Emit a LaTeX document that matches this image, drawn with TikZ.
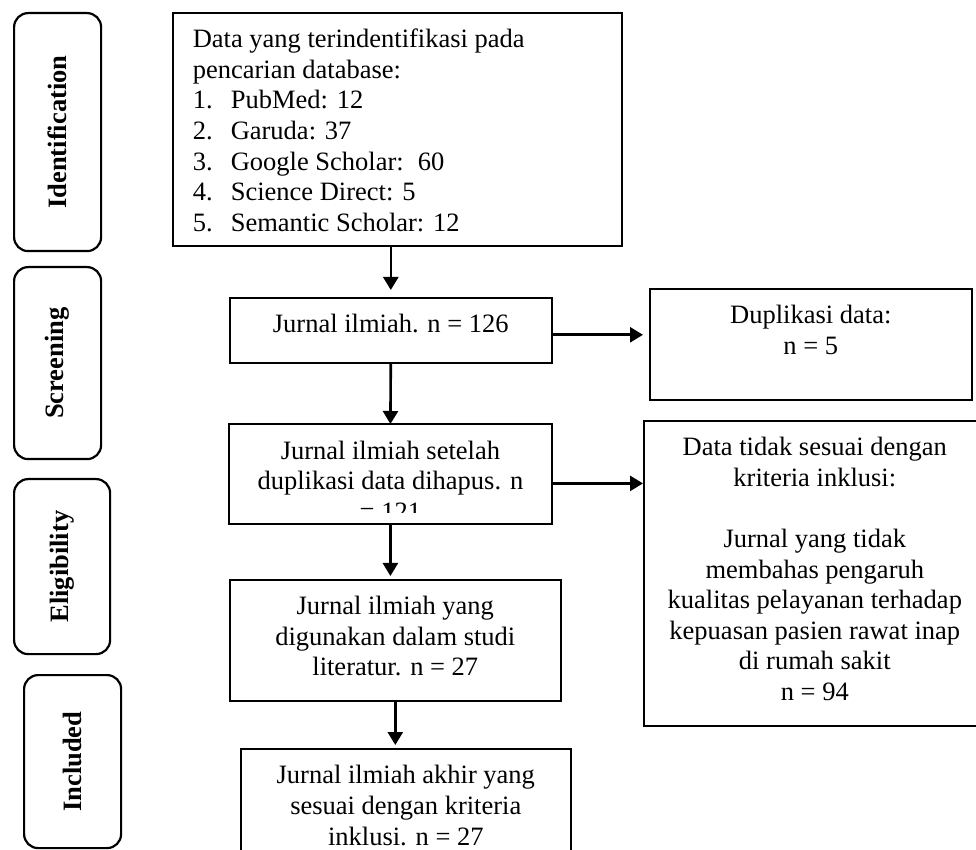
\documentclass[tikz,border=0pt]{standalone}
\usepackage{fontspec}
\setmainfont{Liberation Serif}
\usepackage{tikz}
\usetikzlibrary{arrows.meta}
\usetikzlibrary{positioning}
\newcommand{\flowfont}{\fontsize{13.25}{15.3}\selectfont}
\newcommand{\boxtext}[3]{\parbox[t][#2][t]{#1}{\centering\rule{0pt}{17.5pt}#3}}
\newcommand{\dbitem}[2]{\makebox[19pt][l]{#1}#2}
\tikzset{
    box/.style = {rectangle, draw=black, line width=0.8pt, inner sep=0pt, anchor=north west},
    boxtxt/.style = {rectangle, inner sep=0pt, anchor=north west},
    boxline/.style = {draw=black, line width=0.8pt},
    stage/.style = {rectangle, rounded corners=7pt, draw=black, line width=1.1pt, anchor=north west},
    stagetxt/.style = {rotate=90, font=\flowfont\bfseries},
    arr/.style = {-{Triangle[width=7.5pt,length=6.5pt]}, line width=1.3pt},
}

\begin{document}
\begin{tikzpicture}[x=0.5pt, y=-0.5pt, font=\flowfont]
\useasboundingbox (0,0) rectangle (976,850);
\clip (0,0) rectangle (976,850);
% stages on the left
\node[stage, minimum width=43.5pt, minimum height=119pt] (sid) at (13,12) {};
\node[stage, minimum width=43.5pt, minimum height=96pt] (sscr) at (13,266) {};
\node[stage, minimum width=48pt, minimum height=87.5pt] (seli) at (13,478) {};
\node[stage, minimum width=48.5pt, minimum height=86.5pt] (sinc) at (23,674) {};
\node[stagetxt] (lid) at (sid.center) {Identification};
\node[stagetxt] (lscr) at (sscr.center) {Screening};
\node[stagetxt] (leli) at (seli.center) {Eligibility};
\node[stagetxt] (linc) at (sinc.center) {Included};
%
% flow boxes
\node[box] (ids) at (172,12) {\parbox[t][116.5pt][t]{224.5pt}{\raggedright\leftskip=10pt\rule{0pt}{17.5pt}Data yang terindentifikasi pada\\
pencarian database:\\
\dbitem{1.}{PubMed: 12}\\
\dbitem{2.}{Garuda: 37}\\
\dbitem{3.}{Google Scholar:\hspace{7pt}60}\\
\dbitem{4.}{Science Direct: 5}\\
\dbitem{5.}{Semantic Scholar: 12}}};
\node[box] (scr1) at (229,297) {\boxtext{161pt}{32.5pt}{Jurnal ilmiah. n = 126}};
\node[box] (dup) at (649,288) {\boxtext{161pt}{55.5pt}{Duplikasi data:\\n = 5}};
\begin{scope}
\clip (229,424) rectangle (551,513);
\node[boxtxt] (scr2) at (229,424) {\boxtext{161pt}{49.5pt}{Jurnal ilmiah setelah\\duplikasi data dihapus. n\\= 121}};
\end{scope}
\draw[boxline] (scr2.north west) rectangle (scr2.south east);
\node[box] (excl) at (643,420) {\boxtext{171pt}{152.5pt}{Data tidak sesuai dengan\\kriteria inklusi:\\[15.3pt]Jurnal yang tidak\\membahas pengaruh\\kualitas pelayanan terhadap\\kepuasan pasien rawat inap\\di rumah sakit\\n = 94}};
\node[box] (eli) at (229,579) {\boxtext{165.5pt}{60.5pt}{Jurnal ilmiah yang\\digunakan dalam studi\\literatur. n = 27}};
\node[box] (inc) at (240,748) {\boxtext{165pt}{61pt}{Jurnal ilmiah akhir yang\\sesuai dengan kriteria\\inklusi. n = 27}};
%
% arrows
\draw[arr, shorten >=3.5pt] (ids.south -| scr1.north) -- (scr1.north);
\draw[arr, shorten >=3pt] ([yshift=-2.25pt]scr1.east) -- ([yshift=-2.25pt]scr1.east -| dup.west);
\draw[arr] (scr1.south) -- (scr2.north);
\draw[arr] ([yshift=-4.75pt]scr2.east) -- ([yshift=-4.75pt]scr2.east -| excl.west);
\draw[arr, shorten >=1.5pt] (scr2.south) -- (scr2.south |- eli.north);
\draw[arr, shorten >=1.5pt] (eli.south) -- (eli.south |- inc.north);
\end{tikzpicture}
\end{document}
